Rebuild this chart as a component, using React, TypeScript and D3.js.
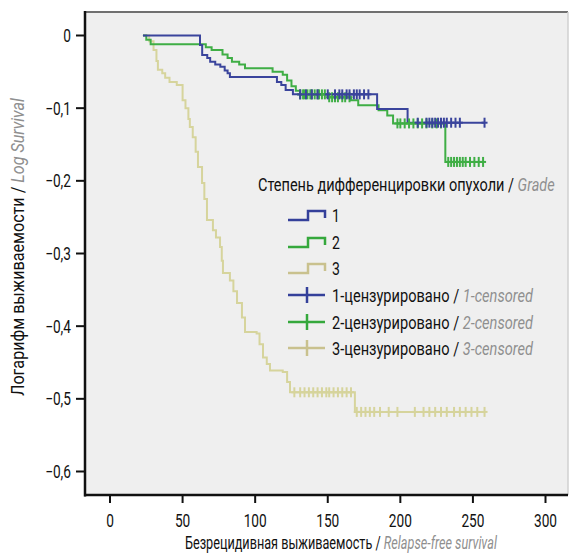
import React, { useLayoutEffect, useRef, useState } from "react";
import * as d3 from "d3";

// ---- data ----
const xTicks = [0, 50, 100, 150, 200, 250, 300];
const yTicks = [0, -0.1, -0.2, -0.3, -0.4, -0.5, -0.6];

// Kaplan–Meier steps: [time, log survival after this time]
const grade1Steps: [number, number][] = [
  [22.7, 0], [62, -0.013], [63.5, -0.027], [67, -0.031], [69, -0.036], [72.5, -0.04],
  [76, -0.043], [79, -0.048], [81, -0.052], [82.6, -0.057], [115, -0.064], [118, -0.068],
  [121, -0.075], [126, -0.081], [184, -0.101], [205, -0.12],
];
const grade1End = 258;
const grade1Censored = [131, 135, 139, 143, 150, 155, 158, 160, 163, 165, 168, 170, 172, 175, 178,
  212, 218, 220, 222, 224, 226, 228, 230, 232, 235, 238, 241, 258];

const grade2Steps: [number, number][] = [
  [22.7, 0], [25, -0.006], [28, -0.012], [66, -0.016], [70, -0.02], [77.5, -0.026],
  [81, -0.031], [84, -0.036], [89, -0.04], [93, -0.045], [112, -0.05], [119, -0.054],
  [122, -0.062], [125, -0.07], [128, -0.076], [131, -0.081], [150, -0.085], [166, -0.089],
  [171, -0.096], [185, -0.103], [191, -0.11], [195, -0.121], [231, -0.174],
];
const grade2End = 257;
const grade2Censored = [131, 133, 134, 136, 138, 139, 141, 143, 144, 146, 148, 151, 153, 155, 157,
  160, 162, 165, 198, 200, 203, 206, 209, 212, 215, 218, 222, 225, 228,
  233, 235, 237, 239, 241, 243, 245, 248, 251, 254, 257];

const grade3Steps: [number, number][] = [
  [22.7, 0], [27, -0.008], [30, -0.02], [32, -0.035], [33, -0.047], [36, -0.052],
  [38, -0.058], [41, -0.064], [46, -0.068], [50, -0.089], [52, -0.1], [54, -0.115],
  [55, -0.126], [57, -0.14], [59, -0.16], [60.6, -0.181], [63.4, -0.203], [65, -0.225],
  [66.8, -0.254], [70.9, -0.268], [73, -0.278], [75.8, -0.291], [77, -0.31], [77.8, -0.327],
  [82.6, -0.337], [85, -0.352], [87.5, -0.368], [90.9, -0.388], [93, -0.408], [101, -0.41],
  [103, -0.425], [105.4, -0.443], [108, -0.452], [110.2, -0.461], [119, -0.463], [122, -0.477],
  [124, -0.491], [168.7, -0.518],
];
const grade3End = 258;
const grade3Censored = [127, 131, 134, 137, 140, 143, 146, 149, 151, 154, 157, 160, 163, 166,
  170, 173, 176, 179, 182, 186, 192, 198, 210, 216, 220, 224, 228, 232, 237, 241, 245, 249, 253, 258];

const legendTitle = "Степень дифференцировки опухоли / ";
const legendTitleEn = "Grade";
const legendLines = ["1", "2", "3"];
const legendCensored = [
  ["1-цензурировано / ", "1-censored"],
  ["2-цензурировано / ", "2-censored"],
  ["3-цензурировано / ", "3-censored"],
];
const xTitle = ["Безрецидивная выживаемость / ", "Relapse-free survival"];
const yTitle = ["Логарифм выживаемости / ", "Log Survival"];

const COLORS = ["#34409a", "#35a83c", "#c9c18e"];
const CURVE_COLORS = ["#3a449c", "#3fae45", "#d6d49c"];

const FONT = "Roboto, 'Noto Sans', sans-serif";
const GRAY = "#8f8f8f";

function valueAt(steps: [number, number][], t: number) {
  let v = steps[0][1];
  for (const s of steps) if (s[0] <= t) v = s[1];
  return v;
}

function FitText(props: { x: number; y: number; width: number; rotate?: number; size: number; parts: string[] }) {
  const ref = useRef<SVGTextElement>(null);
  const [s, setS] = useState(0.8);
  useLayoutEffect(() => {
    if (ref.current) {
      const w = ref.current.getComputedTextLength();
      if (w > 0) setS(props.width / w);
    }
  }, [props.width]);
  return (
    <g transform={`translate(${props.x},${props.y}) rotate(${props.rotate || 0}) scale(${s},1)`}>
      <text ref={ref} x={0} y={0} fontSize={props.size} fill="#111">
        {props.parts[0]}
        {props.parts[1] ? <tspan fill={GRAY} fontStyle="italic">{props.parts[1]}</tspan> : null}
      </text>
    </g>
  );
}

export default function App() {
  const W = 570, H = 553;
  const x = d3.scaleLinear().domain([0, 300]).range([110, 545.5]);
  const y = d3.scaleLinear().domain([0, -0.6]).range([35.5, 471.5]);
  const frame = { l: 85, t: 12, r: 568, b: 495 };

  const line = d3.line<[number, number]>().x(d => x(d[0])).y(d => y(d[1])).curve(d3.curveStepAfter);
  const groups = [
    { steps: grade1Steps, end: grade1End, cens: grade1Censored },
    { steps: grade2Steps, end: grade2End, cens: grade2Censored },
    { steps: grade3Steps, end: grade3End, cens: grade3Censored },
  ];
  const order = [2, 1, 0];
  const fmt = (v: number) => (v === 0 ? "0" : "\u2212" + Math.abs(v).toFixed(1).replace(".", ","));

  const legX = 288;
  const rowY = [215, 242, 268, 295, 322, 348];
  const SX = 0.76;

  return (
    <svg width={W} height={H} style={{ position: "absolute", left: 0, top: 0, background: "#fff" }} fontFamily={FONT}>
      <rect x={frame.l} y={frame.t} width={frame.r - frame.l} height={frame.b - frame.t} fill="#efefef" />
      <line x1={frame.l} x2={frame.r} y1={frame.t} y2={frame.t} stroke="#707070" strokeWidth={2} />
      <line x1={frame.r} x2={frame.r} y1={frame.t} y2={frame.b} stroke="#d0d0d0" strokeWidth={1.5} />

      {/* curves */}
      {order.map(i => {
        const g = groups[i];
        const pts: [number, number][] = [...g.steps, [g.end, g.steps[g.steps.length - 1][1]]];
        return <path key={"c" + i} d={line(pts) || ""} fill="none" stroke={CURVE_COLORS[i]} strokeWidth={2} />;
      })}
      {order.map(i => {
        const g = groups[i];
        return (
          <g key={"m" + i} stroke={CURVE_COLORS[i]} strokeWidth={2}>
            {g.cens.map((t, k) => {
              const cx = x(t), cy = y(valueAt(g.steps, t));
              return (
                <g key={k}>
                  <line x1={cx} x2={cx} y1={cy - 5} y2={cy + 5} />
                  <line x1={cx - 3} x2={cx + 3} y1={cy} y2={cy} />
                </g>
              );
            })}
          </g>
        );
      })}

      {/* axes */}
      <line x1={frame.l} x2={frame.l} y1={frame.t - 1} y2={frame.b + 1.5} stroke="#111" strokeWidth={2.5} />
      <line x1={frame.l - 1} x2={frame.r} y1={frame.b} y2={frame.b} stroke="#111" strokeWidth={2.5} />
      {yTicks.map(v => (
        <g key={"y" + v}>
          <line x1={76} x2={frame.l} y1={y(v)} y2={y(v)} stroke="#111" strokeWidth={2} />
          <text transform={`translate(71,${y(v) + 6.5}) scale(${SX},1)`} textAnchor="end" fontSize={18} fill="#111">{fmt(v)}</text>
        </g>
      ))}
      {xTicks.map(v => (
        <g key={"x" + v}>
          <line x1={x(v)} x2={x(v)} y1={frame.b} y2={503} stroke="#111" strokeWidth={2} />
          <text transform={`translate(${x(v)},527) scale(${SX},1)`} textAnchor="middle" fontSize={18} fill="#111">{v}</text>
        </g>
      ))}

      {/* axis titles */}
      <FitText x={185} y={549} width={312} size={18.5} parts={xTitle} />
      <FitText x={24} y={396} width={298} size={18.5} rotate={-90} parts={yTitle} />

      {/* legend */}
      <FitText x={258} y={191} width={297} size={18.5} parts={[legendTitle, legendTitleEn]} />
      {legendLines.map((lab, i) => {
        const cy = rowY[i];
        return (
          <g key={"l" + i}>
            <path d={`M${legX},${cy + 5} H${legX + 20} V${cy - 4} H${legX + 37} V${cy + 3}`} fill="none" stroke={COLORS[i]} strokeWidth={2.5} />
            <text transform={`translate(332,${cy + 6.5}) scale(${SX},1)`} fontSize={18.5} fill="#111">{lab}</text>
          </g>
        );
      })}
      {legendCensored.map((lab, i) => {
        const cy = rowY[i + 3];
        return (
          <g key={"lc" + i}>
            <line x1={legX} x2={legX + 37} y1={cy} y2={cy} stroke={COLORS[i]} strokeWidth={2.5} />
            <line x1={legX + 19} x2={legX + 19} y1={cy - 8} y2={cy + 8} stroke={COLORS[i]} strokeWidth={2.5} />
            <FitText x={332} y={cy + 6.5} width={201} size={18.5} parts={lab} />
          </g>
        );
      })}
    </svg>
  );
}
